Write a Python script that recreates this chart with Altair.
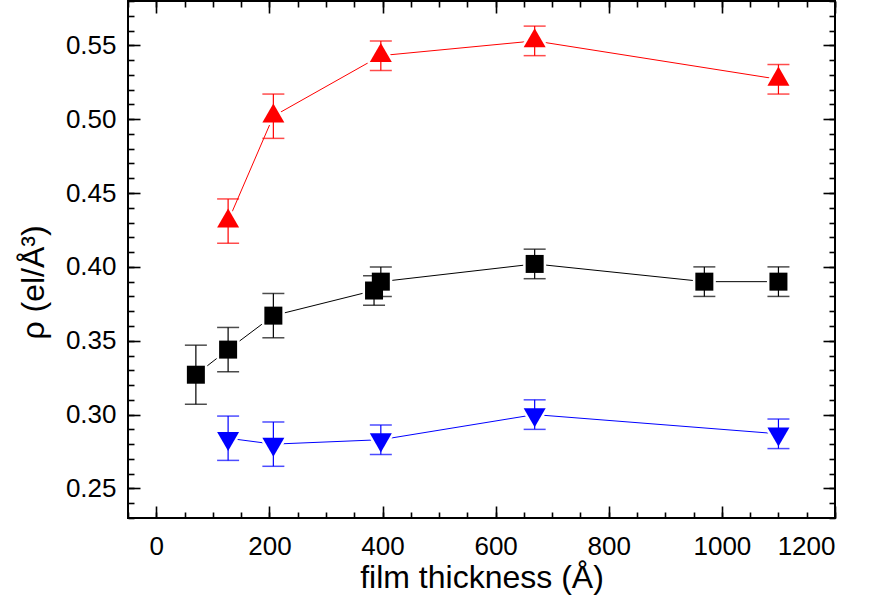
import altair as alt
import pandas as pd

# Electron density vs. film thickness, three series with error bars
thickness_black = [70, 127, 207, 385, 397, 669, 969, 1100]
rho_black = [0.327, 0.344, 0.367, 0.384, 0.390, 0.402, 0.390, 0.390]
err_black = [0.020, 0.015, 0.015, 0.010, 0.010, 0.010, 0.010, 0.010]

thickness_red = [127, 207, 397, 669, 1100]
rho_red = [0.431, 0.502, 0.543, 0.553, 0.527]
err_red = [0.015, 0.015, 0.010, 0.010, 0.010]

thickness_blue = [127, 207, 397, 669, 1100]
rho_blue = [0.284, 0.280, 0.283, 0.300, 0.287]
err_blue = [0.015, 0.015, 0.010, 0.010, 0.010]

series_names = ["black", "red", "blue"]
series_colors = ["#000000", "#ff0000", "#0000ff"]
# triangles are centred on their centroid
series_shapes = ["square",
                 "M0,-1.155L1,0.577L-1,0.577Z",
                 "M0,1.155L1,-0.577L-1,-0.577Z"]

x_major = [0, 200, 400, 600, 800, 1000, 1200]
x_minor = [v for v in range(-50, 1201, 50)]
y_major = [0.25, 0.30, 0.35, 0.40, 0.45, 0.50, 0.55]
y_minor = [round(0.23 + 0.01 * i, 2) for i in range(36)]

rows = []
for name, xs_, ys_, es_ in [("black", thickness_black, rho_black, err_black),
                            ("red", thickness_red, rho_red, err_red),
                            ("blue", thickness_blue, rho_blue, err_blue)]:
    for i, (t, r, e) in enumerate(zip(xs_, ys_, es_)):
        rows.append({"series": name, "order": i, "thickness": t, "rho": r,
                     "lo": round(r - e, 4), "hi": round(r + e, 4)})
df = pd.DataFrame(rows)

FONT = "Liberation Sans"
x_scale = alt.Scale(domain=[-50, 1200], nice=False, zero=False)
y_scale = alt.Scale(domain=[0.23, 0.58], nice=False, zero=False)
color = alt.Color("series:N", scale=alt.Scale(domain=series_names, range=series_colors), legend=None)
shape = alt.Shape("series:N", scale=alt.Scale(domain=series_names, range=series_shapes), legend=None)
size = alt.condition("datum.series == 'black'", alt.value(324), alt.value(484))


def tick_axis(orient, values, length):
    # inward-pointing ticks: pull the axis inside the frame by the tick length
    return alt.Axis(orient=orient, values=values, tickSize=length, offset=-length,
                    labels=False, domain=False, grid=False, ticks=True,
                    tickColor="black", tickWidth=1.6)


x_label_axis = alt.Axis(orient="bottom", values=x_major, format="d", ticks=False, tickSize=0,
                        domain=False, grid=False, labelPadding=15, labelFontSize=26,
                        titleFontSize=32, titleFontWeight="normal", titleY=69,
                        titleBaseline="alphabetic")
y_label_axis = alt.Axis(orient="left", values=y_major, format=".2f", ticks=False, tickSize=0,
                        domain=False, grid=False, labelPadding=12, labelFontSize=26,
                        titleFontSize=32, titleFontWeight="normal", titleX=-85, titleY=281,
                        titleBaseline="alphabetic", titleAngle=270)

base = alt.Chart(df)

lines = base.mark_line(strokeWidth=1).encode(
    x=alt.X("thickness:Q", scale=x_scale, axis=x_label_axis, title="film thickness (Å)"),
    y=alt.Y("rho:Q", scale=y_scale, axis=y_label_axis, title="ρ (el/Å³)"),
    color=color,
    order=alt.Order("order:Q"),
)

halo = base.mark_point(filled=True, fill="white", stroke="white", strokeWidth=5,
                       opacity=1, strokeJoin="round").encode(
    x=alt.X("thickness:Q", scale=x_scale, axis=tick_axis("bottom", x_major, 12), title=None),
    y=alt.Y("rho:Q", scale=y_scale, axis=tick_axis("left", y_major, 12), title=None),
    shape=shape,
    size=size,
)

bars = base.mark_rule(strokeWidth=1.2).encode(
    x=alt.X("thickness:Q", scale=x_scale, axis=tick_axis("bottom", x_minor, 6), title=None),
    y=alt.Y("lo:Q", scale=y_scale, axis=tick_axis("left", y_minor, 6), title=None),
    y2="hi:Q",
    color=color,
)

caps = base.transform_fold(["lo", "hi"], as_=["end", "value"]).mark_tick(
    orient="horizontal", size=22, thickness=1.5).encode(
    x=alt.X("thickness:Q", scale=x_scale, axis=tick_axis("top", x_major, 12), title=None),
    y=alt.Y("value:Q", scale=y_scale, axis=tick_axis("right", y_major, 12), title=None),
    color=color,
)

points = base.mark_point(filled=True, opacity=1, strokeWidth=0).encode(
    x=alt.X("thickness:Q", scale=x_scale, axis=tick_axis("top", x_minor, 6), title=None),
    y=alt.Y("rho:Q", scale=y_scale, axis=tick_axis("right", y_minor, 6), title=None),
    color=color,
    shape=shape,
    size=size,
)

chart = alt.layer(lines, halo, bars, caps, points).resolve_axis(
    x="independent", y="independent"
).properties(
    width=707,
    height=517,
    padding={"left": 128, "top": 1, "right": 35, "bottom": 96},
    autosize=alt.AutoSizeParams(type="none"),
    background="white",
).configure_view(
    stroke="black", strokeWidth=2
).configure_axis(
    labelFont=FONT, titleFont=FONT, labelColor="black", titleColor="black"
)

chart.save("out.html", embed_options={"renderer": "svg", "actions": False})
